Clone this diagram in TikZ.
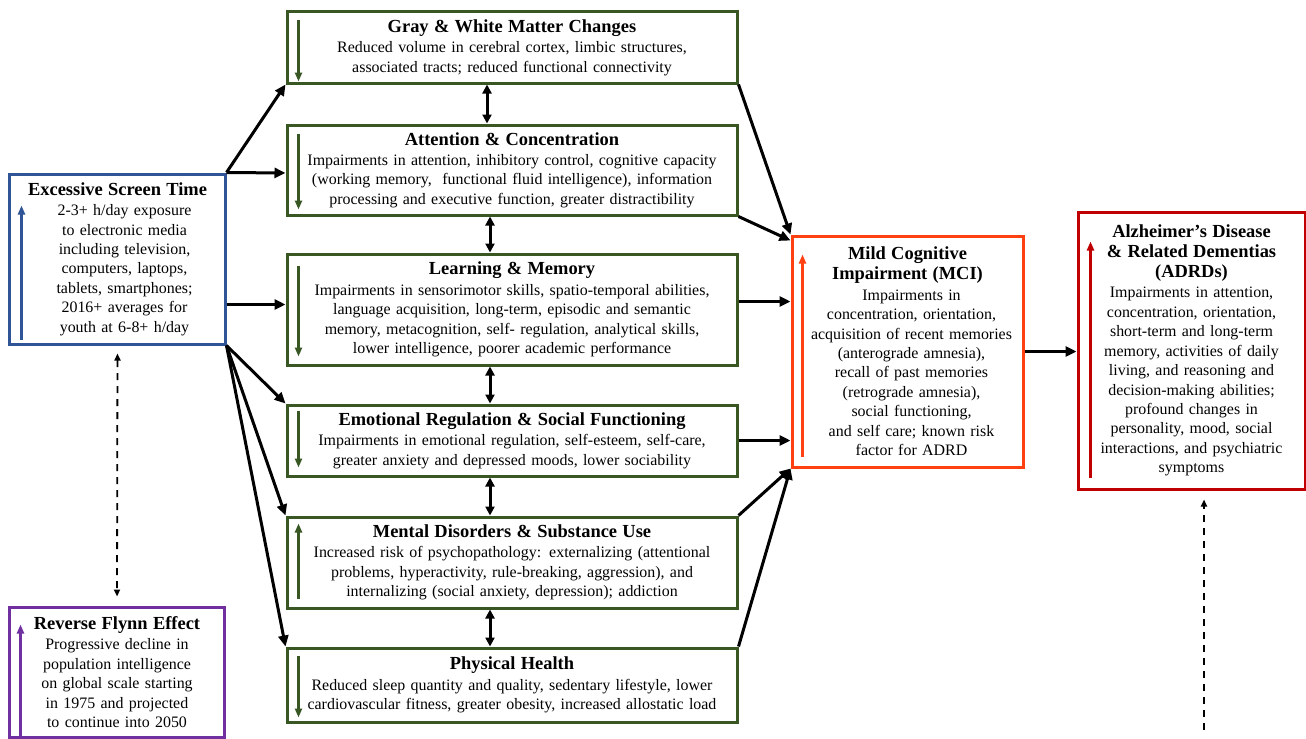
\documentclass[tikz,border=0pt]{standalone}
\usepackage{fontspec}
\setmainfont{Liberation Serif}
\usetikzlibrary{arrows.meta}
\usetikzlibrary{positioning}
\definecolor{scrblue}{RGB}{47, 85, 151}
\definecolor{effgreen}{RGB}{56, 87, 35}
\definecolor{flynnpurple}{RGB}{112, 48, 160}
\definecolor{mciorange}{RGB}{255, 64, 16}
\definecolor{adrdred}{RGB}{192, 0, 0}
\tikzset{
  box/.style={rectangle, line width=3bp, fill=white, align=center, inner sep=0pt,
    font=\fontsize{16}{19.5}\selectfont},
  effbox/.style={box, draw=effgreen, minimum width=450bp, text width=446bp},
  link/.style={line width=3bp, -{Triangle[length=11bp,width=10bp]}},
  bilink/.style={line width=3bp, {Triangle[length=9bp,width=9bp]}-{Triangle[length=9bp,width=9bp]}},
  dashlink/.style={line width=1.8bp, dash pattern=on 7bp off 6bp, shorten <=8bp, shorten >=9bp},
  trend/.style={line width=2.2bp, -{Triangle[length=9bp,width=7bp]}}
}
\newcommand{\boxtitle}[1]{{\bfseries\fontsize{18.5}{20}\selectfont #1\par}\vspace{1bp}}

\begin{document}
\begin{tikzpicture}
				[x=1bp, y=-1bp]
				\useasboundingbox (0,0) rectangle (1306,738);
				% exposure and outcome
				\node (screen) [box, draw=scrblue, minimum width=215bp, minimum height=170bp, text width=213bp] at (117.5,259)
				  {\boxtitle{Excessive Screen Time}\hspace*{14bp}2-3+ h/day exposure\\ \hspace*{14bp}to electronic media\\ \hspace*{14bp}including television,\\ \hspace*{14bp}computers, laptops,\\ \hspace*{14bp}tablets, smartphones;\\ \hspace*{14bp}2016+ averages for\\ \hspace*{14bp}youth at 6-8+ h/day};
				\node (flynn) [box, draw=flynnpurple, minimum width=214bp, minimum height=130bp, text width=212bp] at (117,672)
				  {\boxtitle{Reverse Flynn Effect}Progressive decline in\\ population intelligence\\ on global scale starting\\ in 1975 and projected\\ to continue into 2050};
				% effects
				\node (gray) [effbox, minimum height=71bp] at (512,47.5)
				  {\boxtitle{Gray \& White Matter Changes}Reduced volume in cerebral cortex, limbic structures,\\ associated tracts; reduced functional connectivity};
				\node (attn) [effbox, minimum height=90bp] at (512,170)
				  {\boxtitle{Attention \& Concentration}Impairments in attention, inhibitory control, cognitive capacity\\ (working memory,\ \ functional fluid intelligence), information\\ processing and executive function, greater distractibility};
				\node (learn) [effbox, minimum height=111bp] at (512,309.5)
				  {\boxtitle{Learning \& Memory}Impairments in sensorimotor skills, spatio-temporal abilities,\\ language acquisition, long-term, episodic and semantic\\ memory, metacognition, self- regulation, analytical skills,\\ lower intelligence, poorer academic performance};
				\node (emot) [effbox, minimum height=71bp] at (512,440.5)
				  {\boxtitle{Emotional Regulation \& Social Functioning}Impairments in emotional regulation, self-esteem, self-care,\\ greater anxiety and depressed moods, lower sociability};
				\node (mental) [effbox, minimum height=91bp] at (512,562.5)
				  {\boxtitle{Mental Disorders \& Substance Use}Increased risk of psychopathology: externalizing (attentional\\ problems, hyperactivity, rule-breaking, aggression), and\\ internalizing (social anxiety, depression); addiction};
				\node (phys) [effbox, minimum height=74bp] at (512,685)
				  {\boxtitle{Physical Health}Reduced sleep quantity and quality, sedentary lifestyle, lower\\ cardiovascular fitness, greater obesity, increased allostatic load};
				% clinical stages
				\node (mci) [box, draw=mciorange, minimum width=231bp, minimum height=231bp, text width=229bp] at (907.5,351.5)
				  {\boxtitle{Mild Cognitive\\ Impairment (MCI)}\hspace*{8bp}Impairments in\\ \hspace*{8bp}concentration, orientation,\\ \hspace*{8bp}acquisition of recent memories\\ \hspace*{8bp}(anterograde amnesia),\\ \hspace*{8bp}recall of past memories\\ \hspace*{8bp}(retrograde amnesia),\\ \hspace*{8bp}social functioning,\\ \hspace*{8bp}and self care; known risk\\ \hspace*{8bp}factor for ADRD};
				\node (adrd) [box, draw=adrdred, minimum width=227bp, minimum height=277bp, text width=225bp] at (1191.5,350.5)
				  {\boxtitle{Alzheimer’s Disease\\ \& Related Dementias\\ (ADRDs)}Impairments in attention,\\ concentration, orientation,\\ short-term and long-term\\ memory, activities of daily\\ living, and reasoning and\\ decision-making abilities;\\ profound changes in\\ personality, mood, social\\ interactions, and psychiatric\\ symptoms};
				\coordinate (adrdsrc) at (1204,738);
				% trend arrows inside the boxes
				\draw [trend, color=scrblue] ([shift={(13,-6)}]screen.south west) to ([shift={(13,33)}]screen.north west);
				\draw [trend, color=flynnpurple] ([shift={(12,-2)}]flynn.south west) to ([shift={(12,19)}]flynn.north west);
				\draw [trend, color=effgreen] ([shift={(13,10)}]gray.north west) to ([shift={(13,-3)}]gray.south west);
				\draw [trend, color=effgreen] ([shift={(13,10)}]attn.north west) to ([shift={(13,-7)}]attn.south west);
				\draw [trend, color=effgreen] ([shift={(13,13)}]learn.north west) to ([shift={(13,-10)}]learn.south west);
				\draw [trend, color=effgreen] ([shift={(13,7)}]emot.north west) to ([shift={(13,-10)}]emot.south west);
				\draw [trend, color=effgreen] ([shift={(13,-11)}]mental.south west) to ([shift={(13,8)}]mental.north west);
				\draw [trend, color=effgreen] ([shift={(13,9)}]phys.north west) to ([shift={(13,-6)}]phys.south west);
				\draw [trend, color=mciorange] ([shift={(12,-12)}]mci.south west) to ([shift={(12,20)}]mci.north west);
				\draw [trend, color=adrdred] ([shift={(14,-13)}]adrd.south west) to ([shift={(14,31)}]adrd.north west);
				% screen time to effects
				\draw [link] (screen.north east) to (gray.south west);
				\draw [link] (screen.north east) to ([yshift=-3bp]attn.west);
				\draw [link] ([yshift=5bp]learn.west -| screen.east) to ([yshift=5bp]learn.west);
				\draw [link] (screen.south east) to (emot.north west);
				\draw [link] (screen.south east) to (mental.north west);
				\draw [link] (screen.south east) to (phys.north west);
				% links between effects
				\draw [bilink] ([xshift=-25bp]gray.south) to ([xshift=-25bp]gray.south |- attn.north);
				\draw [bilink] ([xshift=-22bp]attn.south) to ([xshift=-22bp]attn.south |- learn.north);
				\draw [bilink] ([xshift=-22bp]learn.south) to ([xshift=-22bp]learn.south |- emot.north);
				\draw [bilink] ([xshift=-22bp]emot.south) to ([xshift=-22bp]emot.south |- mental.north);
				\draw [bilink] ([xshift=-22bp]mental.south) to ([xshift=-22bp]mental.south |- phys.north);
				% effects to MCI
				\draw [link] (gray.south east) to (mci.north west);
				\draw [link] (attn.south east) to ([yshift=-6bp]mci.north west);
				\draw [link] ([yshift=8bp]learn.east) to ([yshift=8bp]learn.east -| mci.west);
				\draw [link] (emot.east) to (emot.east -| mci.west);
				\draw [link] (mental.north east) to (mci.south west);
				\draw [link] (phys.north east) to (mci.south west);
				\draw [link] (mci.east) to (mci.east -| adrd.west);
				% dashed links
				\draw [dashlink, {Triangle[length=7bp,width=6bp]}-{Triangle[length=7bp,width=6bp]}] (screen.south) to (flynn.north);
				\draw [dashlink, -{Triangle[length=7bp,width=6bp]}] (adrdsrc) to (adrdsrc |- adrd.south);
		\end{tikzpicture}
\end{document}
